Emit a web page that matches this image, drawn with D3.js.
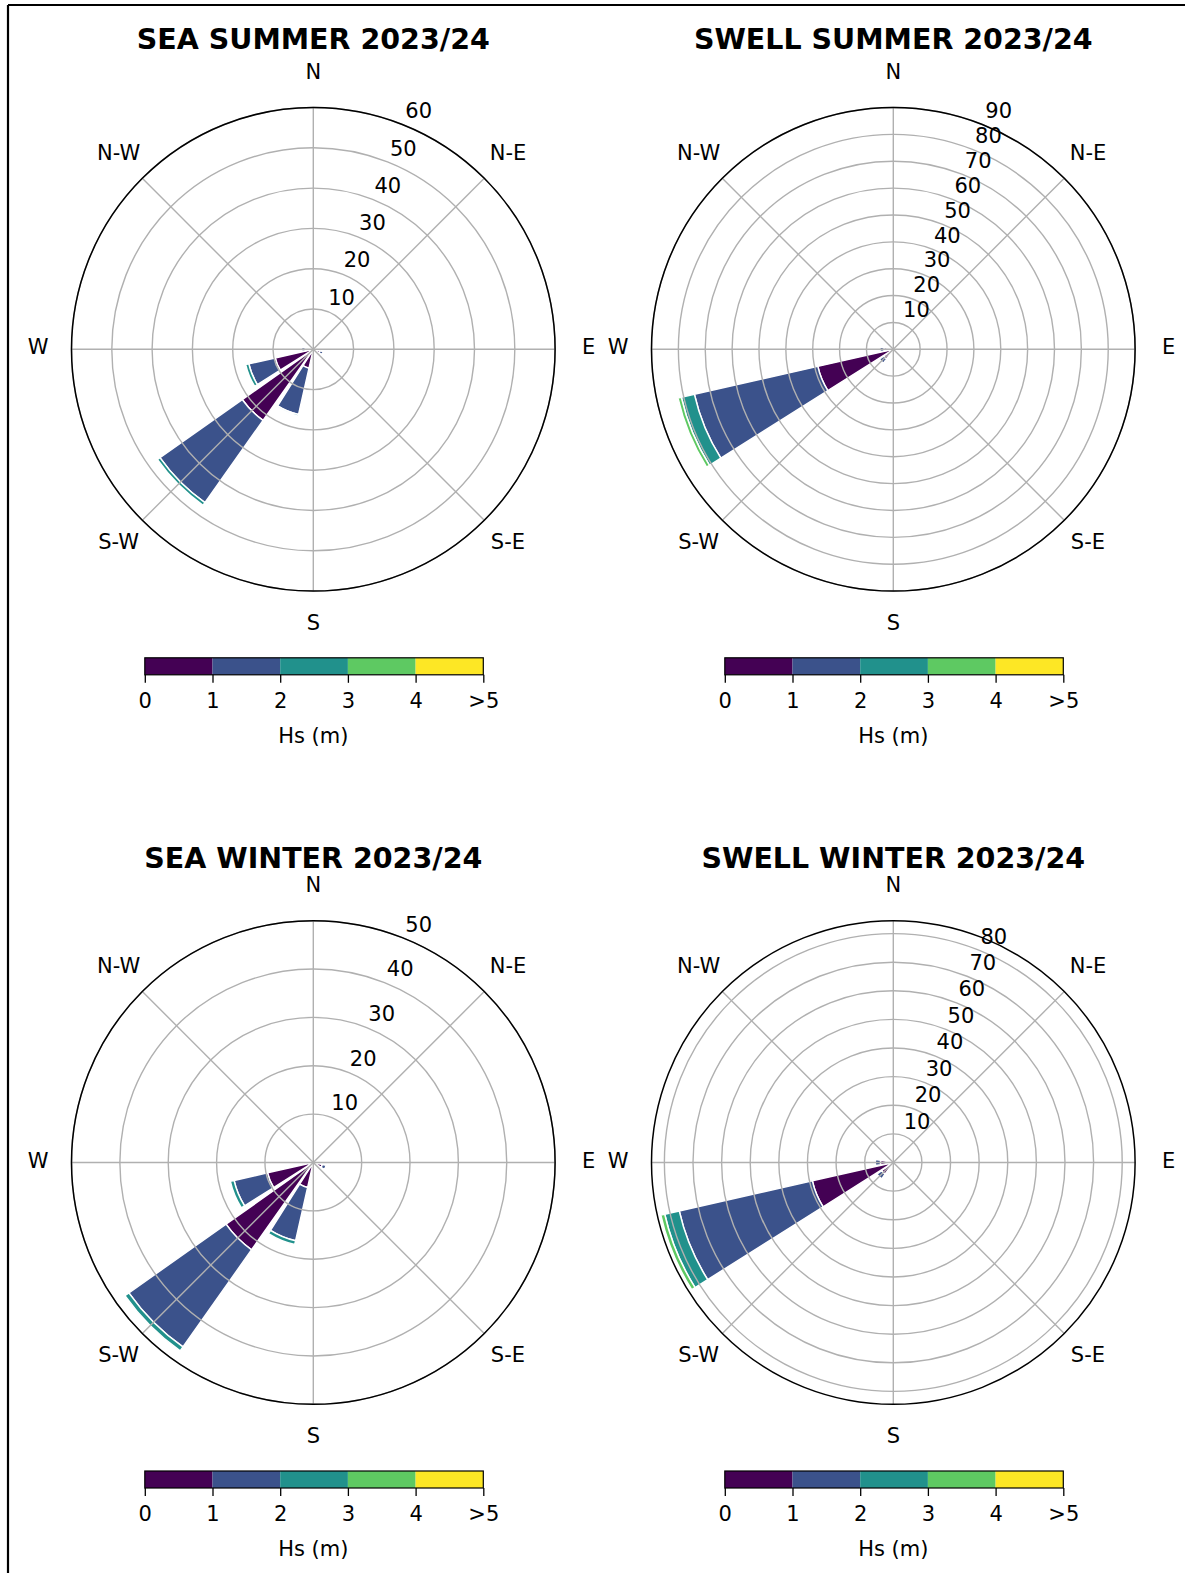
<!DOCTYPE html>
<html>
<head>
<meta charset="utf-8">
<script src="https://cdn.jsdelivr.net/npm/d3@7"></script>
<style>
  html, body { margin: 0; padding: 0; background: #fff; }
  svg { display: block; font-family: "DejaVu Sans", sans-serif; }
</style>
</head>
<body>
<svg id="chart" width="1185" height="1573"></svg>
<script>
// ---- data -------------------------------------------------------------
const SECTORS = ["N","NNE","NE","ENE","E","ESE","SE","SSE","S","SSW","SW","WSW","W","WNW","NW","NNW"];
const COMPASS_LABELS = ["N","N-E","E","S-E","S","S-W","W","N-W"];
const HS_COLORS = ["#440154","#3b528b","#21918c","#5ec962","#fde725"];
const HS_TICKS = ["0","1","2","3","4",">5"];
const PANEL_TITLES = ["SEA SUMMER 2023/24","SWELL SUMMER 2023/24","SEA WINTER 2023/24","SWELL WINTER 2023/24"];
const RADIAL_MAX = [60, 90, 50, 84.5];
const RADIAL_TICKS = [
  [10,20,30,40,50,60],
  [10,20,30,40,50,60,70,80,90],
  [10,20,30,40,50],
  [10,20,30,40,50,60,70,80]
];

// occurrence (%) per direction sector, split by Hs class:
// [sector, 0-1 m, 1-2 m, 2-3 m, 3-4 m, >4 m]
const seaSummer = [
  ["ESE", 1.7, 0.8, 0, 0, 0],
  ["SSW", 4.8, 11.8, 0.4, 0, 0],
  ["SW", 21.6, 25.0, 0.8, 0, 0],
  ["WSW", 9.7, 6.7, 0.8, 0, 0],
  ["W", 2.0, 0.9, 0, 0, 0]
];
const swellSummer = [
  ["SW", 4.4, 1.9, 0, 0, 0],
  ["WSW", 28.8, 47.1, 5.0, 1.3, 0],
  ["W", 3.5, 1.5, 0, 0, 0]
];
const seaWinter = [
  ["ESE", 1.9, 0.8, 0, 0, 0],
  ["SSW", 5.3, 11.3, 0.8, 0, 0],
  ["SW", 22.1, 24.6, 1.0, 0, 0],
  ["WSW", 9.7, 7.1, 0.8, 0, 0]
];
const swellWinter = [
  ["SW", 5.0, 2.0, 0, 0, 0],
  ["WSW", 29.0, 47.7, 5.2, 1.4, 0],
  ["W", 4.5, 1.8, 0, 0, 0]
];
const PANEL_DATA = [seaSummer, swellSummer, seaWinter, swellWinter];

// ---- layout -----------------------------------------------------------
const W = 1185, H = 1573;
const R = 241.8;                       // outer radius of each rose
const CENTERS = [[313.3, 349.3], [893.3, 349.3], [313.3, 1162.5], [893.3, 1162.5]];
const TITLE_Y = [48.5, 48.5, 867.5, 867.5];
const BAR_WIDTH_DEG = 19.5;
const GRID = "#b0b0b0";

const svg = d3.select("#chart");

// figure frame (top and left edges)
svg.append("line").attr("x1", 8).attr("y1", 5).attr("x2", W).attr("y2", 5)
  .attr("stroke", "#000").attr("stroke-width", 2.2);
svg.append("line").attr("x1", 8).attr("y1", 5).attr("x2", 8).attr("y2", H)
  .attr("stroke", "#000").attr("stroke-width", 2.2);

const angleScale = d3.scalePoint()
  .domain(SECTORS)
  .range([0, 2 * Math.PI * (SECTORS.length - 1) / SECTORS.length]);
const halfWidth = BAR_WIDTH_DEG / 2 * Math.PI / 180;
const colorScale = d3.scaleOrdinal().domain(d3.range(HS_COLORS.length)).range(HS_COLORS);

PANEL_DATA.forEach((rows, i) => {
  const [cx, cy] = CENTERS[i];
  const g = svg.append("g").attr("transform", `translate(${cx},${cy})`);
  const r = d3.scaleLinear().domain([0, RADIAL_MAX[i]]).range([0, R]);

  // stacked bars
  const segments = [];
  rows.forEach(row => {
    const a = angleScale(row[0]);
    let acc = 0;
    row.slice(1).forEach((v, k) => {
      if (v > 0) {
        segments.push({ a, k, inner: acc, outer: acc + v });
      }
      acc += v;
    });
  });
  const arc = d3.arc()
    .innerRadius(d => r(d.inner))
    .outerRadius(d => r(d.outer))
    .startAngle(d => d.a - halfWidth)
    .endAngle(d => d.a + halfWidth);
  g.append("g").selectAll("path").data(segments).join("path")
    .attr("d", arc)
    .attr("fill", d => colorScale(d.k))
    .attr("stroke", "#fff")
    .attr("stroke-width", 1.5)
    .attr("stroke-linejoin", "miter");

  // grid on top of the bars
  const grid = g.append("g").attr("fill", "none").attr("stroke", GRID).attr("stroke-width", 1.4);
  grid.selectAll("circle").data(RADIAL_TICKS[i]).join("circle").attr("r", d => r(d));
  grid.selectAll("line").data(d3.range(8)).join("line")
    .attr("x1", 0).attr("y1", 0)
    .attr("x2", d => R * Math.sin(d * Math.PI / 4))
    .attr("y2", d => -R * Math.cos(d * Math.PI / 4));

  // outer frame of the polar axis
  g.append("circle").attr("r", R).attr("fill", "none").attr("stroke", "#000").attr("stroke-width", 1.5);

  // radial tick labels along 22.5°
  const la = 22.5 * Math.PI / 180;
  g.append("g").selectAll("text").data(RADIAL_TICKS[i]).join("text")
    .attr("x", d => r(d) * Math.sin(la) - 0.5)
    .attr("y", d => -r(d) * Math.cos(la) - 7.5)
    .attr("font-size", 21)
    .attr("fill", "#000")
    .text(d => d);

  // compass labels
  g.append("g").selectAll("text").data(COMPASS_LABELS).join("text")
    .attr("x", (d, j) => (R + 33.5) * Math.sin(j * Math.PI / 4))
    .attr("y", (d, j) => -(R + 33.5) * Math.cos(j * Math.PI / 4) - 2)
    .attr("text-anchor", "middle")
    .attr("dominant-baseline", "central")
    .attr("font-size", 21)
    .attr("fill", "#000")
    .text(d => d);

  // title
  svg.append("text")
    .attr("x", cx).attr("y", TITLE_Y[i])
    .attr("text-anchor", "middle")
    .attr("font-size", 28.5)
    .attr("font-weight", "bold")
    .attr("fill", "#000")
    .text(PANEL_TITLES[i]);

  // colour bar
  const cbTop = cy + 308.5, cbH = 17;
  const cbX = d3.scaleLinear().domain([0, HS_COLORS.length]).range([cx - 168.5, cx + 170]);
  const cb = svg.append("g");
  cb.selectAll("rect").data(HS_COLORS).join("rect")
    .attr("x", (d, k) => cbX(k))
    .attr("y", cbTop)
    .attr("width", (d, k) => cbX(k + 1) - cbX(k))
    .attr("height", cbH)
    .attr("fill", d => d);
  cb.append("rect")
    .attr("x", cbX(0)).attr("y", cbTop)
    .attr("width", cbX(HS_COLORS.length) - cbX(0)).attr("height", cbH)
    .attr("fill", "none").attr("stroke", "#000").attr("stroke-width", 1.2);
  const axis = d3.axisBottom(cbX)
    .tickValues(d3.range(HS_TICKS.length))
    .tickFormat(k => HS_TICKS[k])
    .tickSize(8)
    .tickSizeOuter(0);
  const ax = cb.append("g").attr("transform", `translate(0,${cbTop + cbH})`).call(axis);
  ax.select(".domain").remove();
  ax.selectAll(".tick line").attr("stroke", "#000").attr("stroke-width", 1.3);
  ax.selectAll(".tick text")
    .attr("y", 33).attr("dy", 0)
    .attr("font-size", 21)
    .attr("font-family", "DejaVu Sans, sans-serif")
    .attr("fill", "#000");
  cb.append("text")
    .attr("x", cx).attr("y", cbTop + 85)
    .attr("text-anchor", "middle")
    .attr("font-size", 21)
    .attr("fill", "#000")
    .text("Hs (m)");
});
</script>
</body>
</html>
